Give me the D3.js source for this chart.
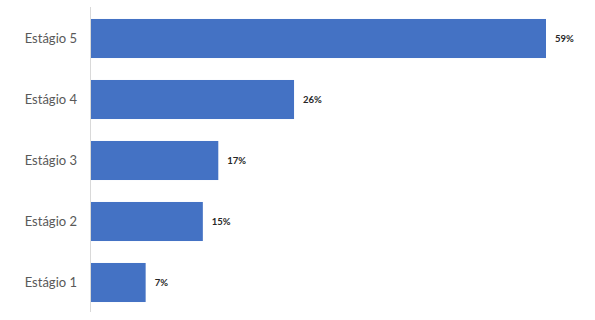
<!DOCTYPE html>
<html>
<head>
<meta charset="utf-8">
<script src="https://cdn.jsdelivr.net/npm/d3@7"></script>
<style>
  body { margin: 0; background: #fff; }
</style>
</head>
<body>
<script>
// Chart data (bottom to top as in the picture)
const stages = ["Estágio 1", "Estágio 2", "Estágio 3", "Estágio 4", "Estágio 5"];
const shares = [7.2, 14.6, 16.6, 26.4, 59.0];

let width = 595,
    height = 320;

let margin = { top: 8, bottom: 7, left: 90, right: 49 };

let svg = d3.select("body")
    .append("svg")
    .attr("width", width)
    .attr("height", height);

let data = stages.map((s, i) => ({ stage: s, value: shares[i] }));

// Y scale: top bar is the last stage
let yScale = d3.scaleBand()
    .domain(stages.slice().reverse())
    .range([margin.top, height - margin.bottom])
    .paddingInner(0.36)
    .paddingOuter(0.18);

let xScale = d3.scaleLinear()
    .domain([0, 59])
    .range([margin.left, 546]);

// Bars
svg.selectAll("rect")
    .data(data)
    .enter().append("rect")
    .attr("x", xScale(0))
    .attr("y", d => yScale(d.stage))
    .attr("width", d => xScale(d.value) - xScale(0))
    .attr("height", yScale.bandwidth())
    .style("fill", "#4472C4");

// Left axis
let yAxis = svg.append("g")
    .attr("transform", `translate(${margin.left},0)`)
    .call(d3.axisLeft(yScale).tickSize(0).tickPadding(13));

yAxis.select(".domain")
    .attr("stroke", "#d9d9d9")
    .attr("d", `M0.5,${7}V${312}`);

yAxis.selectAll("text")
    .style("font-family", "Lato, 'Open Sans', sans-serif")
    .style("font-size", "13px")
    .style("fill", "#595959");

// Value labels
svg.selectAll(".val")
    .data(data)
    .enter().append("text")
    .attr("class", "val")
    .attr("x", d => xScale(d.value) + 9)
    .attr("y", d => yScale(d.stage) + yScale.bandwidth() / 2)
    .attr("dy", "0.35em")
    .style("font-family", "Lato, sans-serif")
    .style("font-size", "9.5px")
    .style("font-weight", "bold")
    .style("fill", "#262626")
    .text(d => Math.round(d.value) + "%");
</script>
</body>
</html>
